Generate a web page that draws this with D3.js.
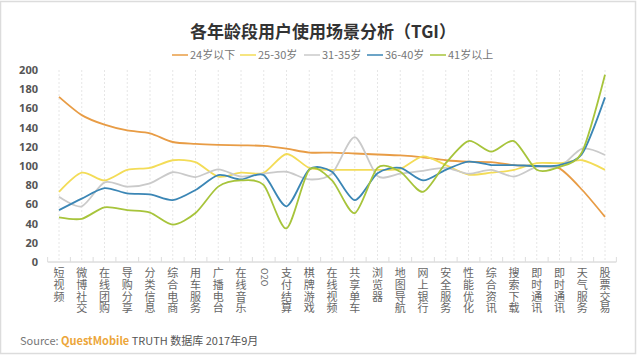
<!DOCTYPE html>
<html><head><meta charset="utf-8">
<script src="https://cdn.jsdelivr.net/npm/d3@7/dist/d3.min.js"></script>
<style>
html,body{margin:0;padding:0;background:#fff;}
svg{display:block;font-family:"Noto Sans CJK SC","Noto Sans",sans-serif;}
</style></head>
<body><svg id="c" width="640" height="356"></svg>
<script>
const categories = ['短视频','微博社交','在线团购','导购分享','分类信息','综合电商','用车服务','广播电台','在线音乐','O2O','支付结算','棋牌游戏','在线视频','共享单车','浏览器','地图导航','网上银行','安全服务','性能优化','综合资讯','搜索下载','即时通讯','即时通讯','天气服务','股票交易'];
const seriesNames = ['24岁以下','25-30岁','31-35岁','36-40岁','41岁以上'];
const s24 = [172,153,143,137,134,125,123,122,121.5,121,118,114,114,113,112,111,109,106,104.5,104,101,100,97.5,75,47];
const s25 = [73,93,85,96,98,106,104,89,93,93,112.5,98,96,96,96,97,110,101,91,93,96,103,103,106,96];
const s31 = [68,58,83,78.5,82,93.5,88.5,96.5,89,92,94,86,92,130,89.6,92,95,98,92,96,89,99,99,118,111.5];
const s36 = [54,66,77,71.5,70.5,64.5,75,90.5,86,90.5,58,96.5,94,64.5,92.5,98,85,96,104.5,101,101,100,101,113,171.5];
const s41 = [46.5,45,57,54,51.5,39,51,78.5,85,80,35,96,85,51,98,94,73,103,126,115,126,96,99,115,195];
const yTicks = [0,20,40,60,80,100,120,140,160,180,200];
const colors = ['#e89c45','#f3dc57','#cacaca','#3b86b5','#a7c43b'];
const allSeries = [s24,s25,s31,s36,s41];

const svg = d3.select('#c');
// frame
svg.append('rect').attr('x',0.5).attr('y',1.5).attr('width',635).attr('height',352)
  .attr('fill','none').attr('stroke','#dcdcdc').attr('stroke-width',1.5);

const idx = d3.range(categories.length);
const x = d3.scalePoint().domain(idx).range([59,605]);
const y = d3.scaleLinear().domain([0,200]).range([262,70]);
const step = x.step();

// title
svg.append('text').attr('x',323).attr('y',38).attr('text-anchor','middle')
  .attr('font-size',17).attr('font-weight','bold').attr('fill','#333')
  .text('各年龄段用户使用场景分析（TGI）');

// legend
const legX = [172,240,304,367,430];
seriesNames.forEach((n,i)=>{
  const g = svg.append('g').attr('transform',`translate(${legX[i]},55)`);
  g.append('line').attr('x1',0).attr('x2',16).attr('y1',0).attr('y2',0)
    .attr('stroke',colors[i]).attr('stroke-width',1.5);
  g.append('text').attr('x',18).attr('y',4).attr('font-size',11).attr('fill','#777').text(n);
});

// vertical grid
svg.append('g').selectAll('line').data(idx).join('line')
  .attr('x1',d=>x(d)).attr('x2',d=>x(d)).attr('y1',70).attr('y2',262)
  .attr('stroke','#e6e6e6').attr('stroke-dasharray','2,2');

// y axis
const yAxis = svg.append('g').attr('transform','translate(38,0)')
  .call(d3.axisLeft(y).tickValues(yTicks).tickSize(0).tickPadding(0));
yAxis.select('.domain').remove();
yAxis.selectAll('text').attr('font-size',11).attr('font-weight','bold').attr('fill','#555')
  .attr('font-family','"Noto Sans","DejaVu Sans",sans-serif');

// x axis line and ticks
const xAxis = svg.append('g').attr('transform','translate(0,262)');
xAxis.append('line').attr('x1',x(0)-step/2).attr('x2',x(idx.length-1)+step/2)
  .attr('stroke','#ccc');
xAxis.selectAll('line.t').data(d3.range(idx.length+1)).join('line').attr('class','t')
  .attr('x1',d=>x(0)-step/2+d*step).attr('x2',d=>x(0)-step/2+d*step)
  .attr('y1',0).attr('y2',-5).attr('stroke','#ddd');

// x labels
categories.forEach((c,i)=>{
  if(c==='O2O'){
    svg.append('text').attr('transform',`translate(${x(i)-3},268) rotate(90)`)
      .attr('font-size',9).attr('fill','#666').text(c);
    return;
  }
  const t = svg.append('text').attr('font-size',11).attr('fill','#666').attr('text-anchor','middle');
  c.split('').forEach((ch,k)=>{
    t.append('tspan').attr('x',x(i)).attr('y',277+k*11.8).text(ch);
  });
});

// lines
const line = d3.line().x((d,i)=>x(i)).y(d=>y(d)).curve(d3.curveCardinal.tension(0.2));
allSeries.forEach((s,i)=>{
  svg.append('path').datum(s).attr('d',line).attr('fill','none')
    .attr('stroke',colors[i]).attr('stroke-width',1.8);
});

// source
const src = svg.append('text').attr('x',20).attr('y',345).attr('font-size',11).attr('fill','#777');
src.append('tspan').text('Source:  ');
src.append('tspan').attr('font-weight','bold').attr('fill','#eca63a').text('QuestMobile');
src.append('tspan').attr('fill','#555').text(' TRUTH 数据库 2017年9月');
</script></body></html>
